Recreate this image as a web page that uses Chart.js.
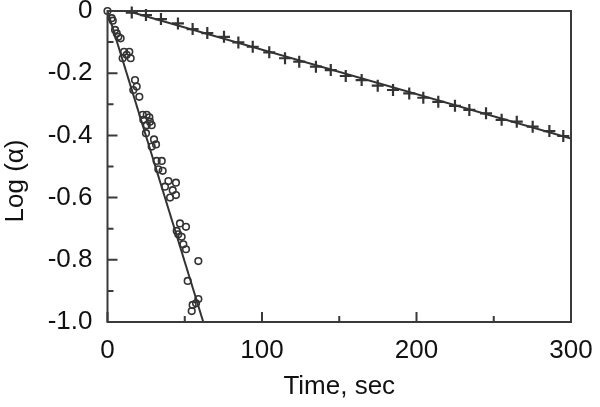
<!DOCTYPE html>
<html>
<head>
<meta charset="utf-8">
<script src="https://cdn.jsdelivr.net/npm/chart.js@4/dist/chart.umd.min.js"></script>
<style>
  html, body { margin: 0; padding: 0; background: #fff; }
  #wrap { width: 600px; height: 407px; }
</style>
</head>
<body>
<div id="wrap"><canvas id="grafico"></canvas></div>
<script>
// data
const circleTime = [0, 2.7, 3.4, 4.9, 6.0, 7.0, 8.5, 10.7, 14.1, 12.4, 9.8, 15.0, 17.8, 18.9, 16.7, 20.6,
  22.8, 27.1, 25.4, 23.2, 27.5, 25.4, 28.6, 24.9, 30.1, 31.4, 28.6, 31.8, 35.1, 32.9, 35.7, 39.4,
  44.3, 37.2, 42.2, 44.3, 40.5, 46.9, 50.8, 44.8, 45.8, 48.0, 49.1, 50.8, 58.8, 51.9, 58.8, 55.1, 57.3, 54.5];
const circleLog = [0, -0.023, -0.031, -0.061, -0.072, -0.083, -0.088, -0.131, -0.131, -0.141, -0.152, -0.152, -0.222, -0.243, -0.254, -0.276,
  -0.334, -0.342, -0.334, -0.350, -0.356, -0.367, -0.367, -0.393, -0.413, -0.429, -0.436, -0.482, -0.482, -0.509, -0.514, -0.547,
  -0.552, -0.565, -0.576, -0.592, -0.600, -0.683, -0.694, -0.707, -0.718, -0.726, -0.750, -0.766, -0.804, -0.868, -0.926, -0.945, -0.940, -0.965];

const plusTime = [15.7, 24.9, 34.6, 45.6, 55.1, 64.6, 75.4, 84.7, 94, 104.7, 114.9, 124.1, 134.9, 144.5, 154.2, 164.5, 174.9, 184.8,
  195.3, 204.4, 214.1, 224.9, 234.2, 245, 255.1, 264.9, 275.2, 286, 295];
const plusLog = [-0.005, -0.013, -0.026, -0.040, -0.058, -0.071, -0.083, -0.101, -0.115, -0.133, -0.152, -0.163, -0.179, -0.190, -0.209, -0.222, -0.240, -0.254,
  -0.265, -0.279, -0.292, -0.305, -0.318, -0.329, -0.350, -0.356, -0.372, -0.386, -0.402];

// fitted lines (end points)
const fastFitTime = [0, 62];
const fastFitLog = [0, -1.0];
const slowFitTime = [13, 300];
const slowFitLog = [0, -0.41];

const xTicks = [0, 100, 200, 300];
const yTicks = [0, -0.2, -0.4, -0.6, -0.8, -1.0];

const ink = '#333';
const fonte = { family: 'Liberation Sans', size: 26 };
const toPts = (xs, ys) => xs.map((x, i) => ({ x: x, y: ys[i] }));

// caixa + marcas de escala para dentro
const boxPlugin = {
  id: 'boxPlugin',
  afterDraw(chart) {
    const ctx = chart.ctx;
    const a = chart.chartArea;
    const sx = chart.scales.x, sy = chart.scales.y;
    ctx.save();
    ctx.strokeStyle = '#3a3a3a';
    ctx.lineWidth = 2;
    ctx.strokeRect(a.left, a.top, a.right - a.left, a.bottom - a.top);
    ctx.beginPath();
    for (let v = 0; v <= 300; v += 50) {
      const px = sx.getPixelForValue(v);
      const len = v % 100 === 0 ? 10 : 6;
      ctx.moveTo(px, a.bottom);
      ctx.lineTo(px, a.bottom - len);
    }
    for (let i = 0; i <= 10; i++) {
      const py = sy.getPixelForValue(-i / 10);
      const len = i % 2 === 0 ? 10 : 6;
      ctx.moveTo(a.left, py);
      ctx.lineTo(a.left + len, py);
    }
    ctx.stroke();
    ctx.restore();
  }
};

window.addEventListener('DOMContentLoaded', function () {
  const ctx = document.getElementById('grafico').getContext('2d');
  new Chart(ctx, {
    type: 'scatter',
    data: {
      datasets: [
        {
          type: 'line',
          data: toPts(fastFitTime, fastFitLog),
          borderColor: ink, borderWidth: 2, pointRadius: 0, fill: false
        },
        {
          type: 'line',
          data: toPts(slowFitTime, slowFitLog),
          borderColor: ink, borderWidth: 2, pointRadius: 0, fill: false
        },
        {
          data: toPts(circleTime, circleLog),
          pointStyle: 'circle', pointRadius: 3.3, borderWidth: 1.6,
          borderColor: ink, backgroundColor: 'rgba(255,255,255,0)', clip: false
        },
        {
          data: toPts(plusTime, plusLog),
          pointStyle: 'cross', pointRadius: 6, borderWidth: 2.2,
          borderColor: ink, backgroundColor: ink, clip: false
        }
      ]
    },
    options: {
      responsive: true,
      maintainAspectRatio: false,
      animation: false,
      layout: { padding: { top: 11, right: 29, left: 0, bottom: 0 } },
      plugins: { legend: { display: false }, tooltip: { enabled: false } },
      scales: {
        x: {
          type: 'linear', min: 0, max: 300,
          afterBuildTicks: s => { s.ticks = xTicks.map(v => ({ value: v })); },
          afterFit: s => { s.height = 85; s.paddingLeft = 0; s.paddingRight = 0; },
          grid: { display: false, drawTicks: false },
          border: { display: false },
          ticks: { color: '#111', padding: 13, font: fonte, maxRotation: 0 },
          title: { display: true, text: 'Time, sec', color: '#111', padding: { top: 0, bottom: 5 }, font: fonte }
        },
        y: {
          type: 'linear', min: -1.0, max: 0,
          afterBuildTicks: s => { s.ticks = yTicks.map(v => ({ value: v })); },
          afterFit: s => { s.width = 107.5; s.paddingTop = 0; s.paddingBottom = 0; },
          grid: { display: false, drawTicks: false },
          border: { display: false },
          ticks: {
            color: '#111', padding: 15, font: fonte,
            callback: v => v === 0 ? '0' : v.toFixed(1)
          },
          // espaços no fim empurram o título um pouco para baixo
          title: { display: true, text: 'Log (α)\u00a0\u00a0\u00a0\u00a0', color: '#111', padding: 0, font: fonte }
        }
      }
    },
    plugins: [boxPlugin]
  });
});
</script>
</body>
</html>
